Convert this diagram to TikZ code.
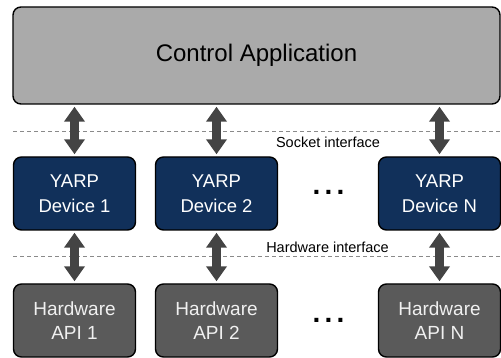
\documentclass[tikz,border=0pt]{standalone}
\usepackage{fontspec}
\setmainfont{Liberation Sans}
\usetikzlibrary{arrows.meta}
\definecolor{ctrlgray}{HTML}{AAAAAA}
\definecolor{yarpblue}{HTML}{11305A}
\definecolor{hwgray}{HTML}{5A5A5A}
\definecolor{arrgray}{HTML}{444444}
\definecolor{dashgray}{HTML}{8A8A8A}
\tikzset{
  box/.style={draw=black, line width=1.4pt, rounded corners=8pt, inner sep=0pt, align=center},
  ctrlbox/.style={box, fill=ctrlgray, minimum width=487pt, minimum height=97pt, font=\fontsize{24}{28}\selectfont},
  yarpbox/.style={box, fill=yarpblue, text=white, minimum width=122pt, minimum height=73pt, font=\fontsize{18.5}{25}\selectfont},
  hwbox/.style={box, fill=hwgray, text=white!94!black, minimum width=122pt, minimum height=73pt, font=\fontsize{19}{24}\selectfont},
  bigarrow/.style={draw=arrgray, line width=9pt, {Triangle[width=20pt,length=15pt]}-{Triangle[width=20pt,length=15pt]}, shorten <=2pt, shorten >=2pt},
  ifline/.style={draw=dashgray, line width=1pt, dash pattern=on 4pt off 3pt},
  iflabel/.style={font=\fontsize{14.5}{16}\selectfont, inner sep=0pt},
  dots/.style={font=\bfseries\fontsize{28}{28}\selectfont, inner sep=0pt, anchor=base}
}
\newcommand{\mydots}{.\hspace{4.2pt}.\hspace{4.2pt}.}
\begin{document}
\begin{tikzpicture}[x=1pt,y=-1pt]
\useasboundingbox (0,0) rectangle (501,358);
\node[ctrlbox] (ctrl) at (256.5,55.5) {Control Application};
\node[yarpbox] (y1) at (74.5,193.5) {YARP\\Device 1};
\node[yarpbox] (y2) at (216.5,193.5) {YARP\\Device 2};
\node[yarpbox] (yn) at (439.5,193.5) {YARP\\Device N};
\node[hwbox] (h1) at (74.5,320.5) {Hardware\\API 1};
\node[hwbox] (h2) at (216.5,320.5) {Hardware\\API 2};
\node[hwbox] (hn) at (439.5,320.5) {Hardware\\API N};
\node[dots] (d1) at (328.5,194.5) {\mydots};
\node[dots] (d2) at (328.5,322.5) {\mydots};
\coordinate (s1) at (13,132);
\coordinate (s2) at (501,132);
\coordinate (w1) at (13,257);
\coordinate (w2) at (501,257);
\draw[ifline] (s1) -- (s2);
\draw[ifline] (w1) -- (w2);
\node[iflabel] (sl) at (328,142) {Socket interface};
\node[iflabel] (hl) at (327.5,247.5) {Hardware interface};
\foreach \n in {y1,y2,yn}{
  \draw[bigarrow] (ctrl.south -| \n.north) -- (\n.north);
}
\draw[bigarrow] (y1.south) -- (h1.north);
\draw[bigarrow] (y2.south) -- (h2.north);
\draw[bigarrow] (yn.south) -- (hn.north);
\end{tikzpicture}
\end{document}
